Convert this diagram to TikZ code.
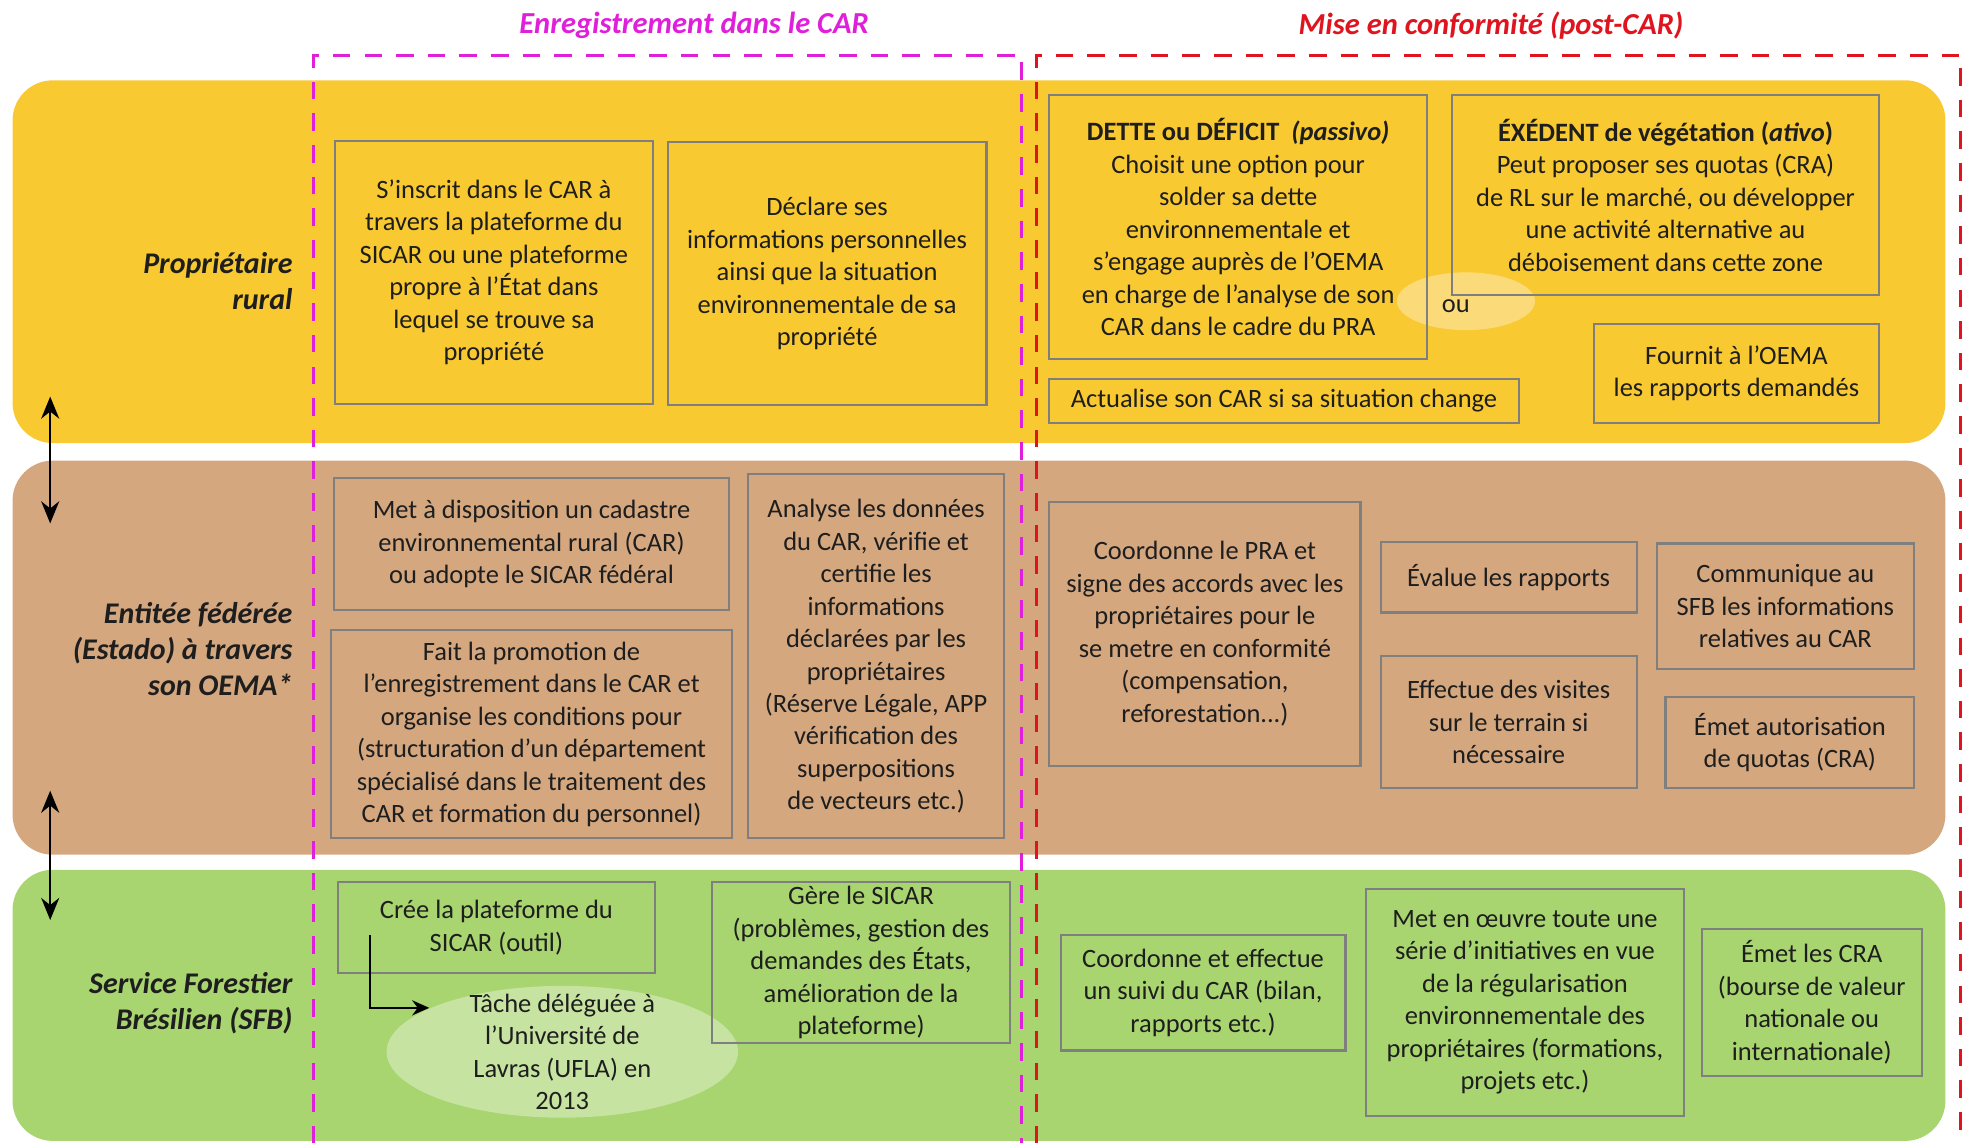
\documentclass[tikz,border=0pt]{standalone}
\usepackage{fontspec}
\setmainfont{Carlito}
\usetikzlibrary{arrows.meta,shapes.geometric}
\definecolor{Gold}{HTML}{F9C932}
\definecolor{Tan}{HTML}{D4A77F}
\definecolor{Leaf}{HTML}{A8D570}
\definecolor{Frame}{HTML}{7F7F7F}
\definecolor{Ink}{HTML}{1E1E1E}
\definecolor{Pink}{HTML}{E01FDB}
\definecolor{Crimson}{HTML}{E0141E}
\newlength\px
\setlength\px{0.025cm}
\newcommand\boxfont{\fontsize{15}{18.4}\selectfont}
\newcommand\lanefont{\fontsize{17}{20.5}\selectfont\bfseries\itshape}
\newcommand\titlefont{\fontsize{17.3}{21}\selectfont\bfseries\itshape}
\tikzset{
  arr/.style={-{Stealth[length=3.4mm,width=3mm]},line width=1.2pt,draw=black},
  dblarr/.style={{Stealth[length=4.4mm,width=3.6mm]}-{Stealth[length=4.4mm,width=3.6mm]},line width=1.2pt,draw=black},
  actbox/.style={draw=Frame,line width=1.2pt,align=center,inner sep=0pt,text=Ink,font=\boxfont},
  lanelabel/.style={anchor=east,align=right,text=Ink,font=\lanefont},
  phasetitle/.style={font=\titlefont},
  phaseline/.style={dash pattern=on 0.35cm off 0.28cm,line width=1.5pt},
  glow/.style={ellipse,fill=white,fill opacity=.35,draw=none,inner sep=0pt}
}

\begin{document}
\begin{tikzpicture}[x=0.025cm,y=-0.025cm]
  \useasboundingbox (0,0) rectangle (1568,911);
  % bandes
  \fill[Gold,rounded corners=0.8cm] (10,64) rectangle (1550,353);
  \fill[Tan,rounded corners=0.8cm] (10,367) rectangle (1550,681);
  \fill[Leaf,rounded corners=0.8cm] (10,693) rectangle (1550,909);

  % titres des phases
  \node[phasetitle,text=Pink] (tenreg) at (553,20) {Enregistrement dans le CAR};
  \node[phasetitle,text=Crimson] (tconf) at (1188,20) {Mise en conformité (post-CAR)};

  % acteurs
  \node[lanelabel] (proprio) at (238,224) {Propriétaire\\rural};
  \node[lanelabel] (estado) at (238,517) {Entitée fédérée\\(Estado) à travers\\son OEMA*};
  \node[lanelabel] (sfb) at (238,799) {Service Forestier\\Brésilien (SFB)};
  \coordinate (a1top) at (40,316); \coordinate (a1bot) at (40,417);
  \coordinate (a2top) at (40,630); \coordinate (a2bot) at (40,733);
  \draw[dblarr] (a1top) -- (a1bot);
  \draw[dblarr] (a2top) -- (a2bot);

  % halos
  \node[glow,minimum width=110\px,minimum height=46\px] (ouglow) at (1168,240) {};
  \node[glow,minimum width=280\px,minimum height=105\px] (delegglow) at (448,838) {};

  % proprietaire rural
  \node[actbox,minimum width=253\px,minimum height=210\px] (inscrit) at (393.5,217) {S’inscrit dans le CAR à\\travers la plateforme du\\SICAR ou une plateforme\\propre à l’État dans\\lequel se trouve sa\\propriété};
  \node[actbox,minimum width=254\px,minimum height=210\px] (declare) at (659,218) {Déclare ses\\informations personnelles\\ainsi que la situation\\environnementale de sa\\propriété};
  \node[actbox,minimum width=301\px,minimum height=210\px] (dette) at (986.5,181) {\textbf{DETTE ou DÉFICIT~~\textit{(passivo)}}\\Choisit une option pour\\solder sa dette\\environnementale et\\s’engage auprès de l’OEMA\\en charge de l’analyse de son\\CAR dans le cadre du PRA};
  \node[actbox,minimum width=340\px,minimum height=159\px] (excedent) at (1327,155.5) {\textbf{ÉXÉDENT de végétation (\textit{ativo})}\\Peut proposer ses quotas (CRA)\\de RL sur le marché, ou développer\\une activité alternative au\\déboisement dans cette zone};
  \node[text=Ink,font=\boxfont] (ou) at (1160,244) {ou};
  \node[actbox,minimum width=374\px,minimum height=35\px] (actualise) at (1023,319.5) {Actualise son CAR si sa situation change};
  \node[actbox,minimum width=227\px,minimum height=79\px] (fournit) at (1383.5,297.5) {Fournit à l’OEMA\\les rapports demandés};

  % entite federee
  \node[actbox,minimum width=315\px,minimum height=105\px] (cadastre) at (423.5,433.5) {Met à disposition un cadastre\\environnemental rural (CAR)\\ou adopte le SICAR fédéral};
  \node[actbox,minimum width=319\px,minimum height=166\px] (promo) at (423.5,585) {Fait la promotion de\\l’enregistrement dans le CAR et\\organise les conditions pour\\(structuration d’un département\\spécialisé dans le traitement des\\CAR et formation du personnel)};
  \node[actbox,minimum width=204\px,minimum height=290\px] (analyse) at (698,523) {Analyse les données\\du CAR, vérifie et\\certifie les\\informations\\déclarées par les\\propriétaires\\(Réserve Légale, APP\\vérification des\\superpositions\\de vecteurs etc.)};
  \node[actbox,minimum width=248\px,minimum height=210\px] (coordpra) at (960,505) {Coordonne le PRA et\\signe des accords avec les\\propriétaires pour le\\se metre en conformité\\(compensation,\\reforestation...)};
  \node[actbox,minimum width=204\px,minimum height=56\px] (evalue) at (1202,460) {Évalue les rapports};
  \node[actbox,minimum width=205\px,minimum height=100\px] (communique) at (1422.5,483) {Communique au\\SFB les informations\\relatives au CAR};
  \node[actbox,minimum width=204\px,minimum height=105\px] (visites) at (1202,575.5) {Effectue des visites\\sur le terrain si\\nécessaire};
  \node[actbox,minimum width=198\px,minimum height=73\px] (autoris) at (1426,591.5) {Émet autorisation\\de quotas (CRA)};

  % service forestier
  \node[actbox,minimum width=253\px,minimum height=72\px] (cree) at (395.5,739) {Crée la plateforme du\\SICAR (outil)};
  \node[actbox,minimum width=238\px,minimum height=128\px] (gere) at (686,767) {Gère le SICAR\\(problèmes, gestion des\\demandes des États,\\amélioration de la\\plateforme)};
  \node[align=center,text=Ink,font=\boxfont] (deleg) at (448,838) {Tâche déléguée à\\l’Université de\\Lavras (UFLA) en\\2013};
  \coordinate (creefoot) at (295,745);
  \coordinate (delegin) at (342,803);
  \draw[arr] (creefoot) |- (delegin);
  \node[actbox,minimum width=227\px,minimum height=92\px] (suivi) at (958.5,791) {Coordonne et effectue\\un suivi du CAR (bilan,\\rapports etc.)};
  \node[actbox,minimum width=254\px,minimum height=181\px] (oeuvre) at (1215,798.5) {Met en œuvre toute une\\série d’initiatives en vue\\de la régularisation\\environnementale des\\propriétaires (formations,\\projets etc.)};
  \node[actbox,minimum width=175\px,minimum height=117\px] (emetcra) at (1443.5,798.5) {Émet les CRA\\(bourse de valeur\\nationale ou\\internationale)};

  % cadres des phases
  \draw[phaseline,Pink] (250,911) -- (250,44) -- (814,44) -- (814,911);
  \draw[phaseline,Crimson] (826,911) -- (826,44) -- (1562,44) -- (1562,911);
\end{tikzpicture}
\end{document}
